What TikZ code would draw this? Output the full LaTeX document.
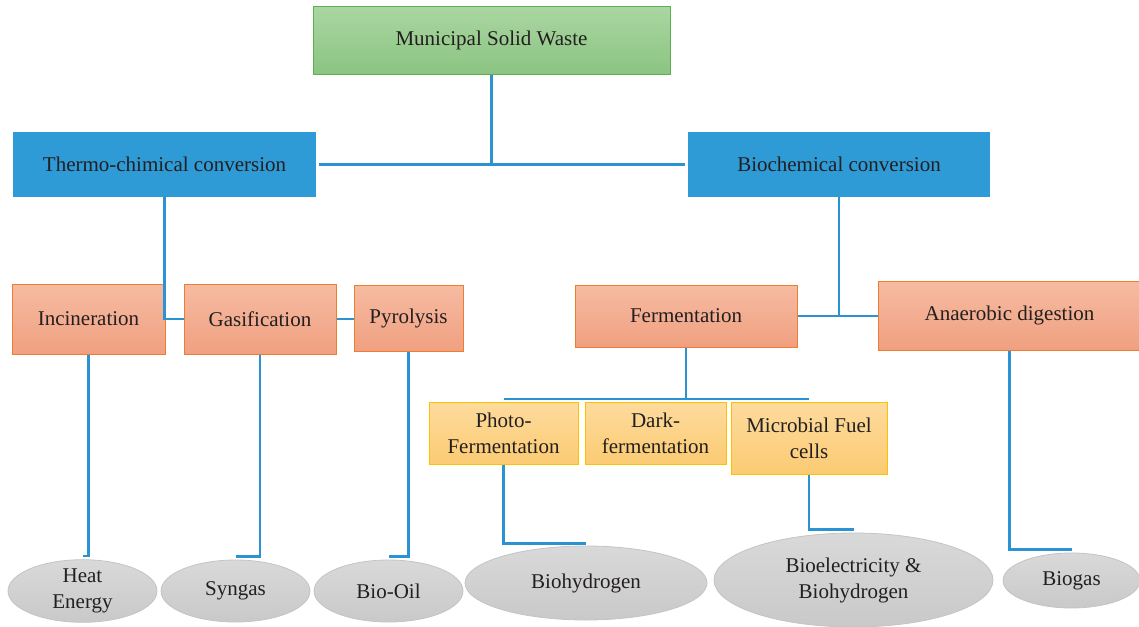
\documentclass[tikz,border=0pt]{standalone}
\usepackage{fontspec}
\setmainfont{Liberation Serif}
\usetikzlibrary{shapes.geometric}
\definecolor{conncol}{HTML}{2B93D1}
\definecolor{txtcol}{HTML}{231F20}
\definecolor{gtop}{HTML}{AAD6A1}
\definecolor{gbot}{HTML}{8BC482}
\definecolor{gdraw}{HTML}{5DB04E}
\definecolor{bfill}{HTML}{2E9BD6}
\definecolor{otop}{HTML}{F6BBA2}
\definecolor{obot}{HTML}{F0A080}
\definecolor{odraw}{HTML}{ED7D31}
\definecolor{ytop}{HTML}{FDDB9E}
\definecolor{ybot}{HTML}{FBCB72}
\definecolor{ydraw}{HTML}{FFC000}
\definecolor{etop}{HTML}{D9D9D9}
\definecolor{ebot}{HTML}{C9C9C9}
\definecolor{edraw}{HTML}{C4C4C4}
\tikzset{
  basebox/.style={rectangle, inner sep=2pt, text=txtcol, align=center},
  greenbox/.style={basebox, draw=gdraw, line width=1pt, top color=gtop, bottom color=gbot},
  bluebox/.style={basebox, fill=bfill},
  orangebox/.style={basebox, draw=odraw, line width=1pt, top color=otop, bottom color=obot},
  yellowbox/.style={basebox, draw=ydraw, line width=1pt, top color=ytop, bottom color=ybot},
  grayell/.style={ellipse, inner sep=0pt, text=txtcol, align=center, draw=edraw, line width=0.8pt, top color=etop, bottom color=ebot},
  conn/.style={draw=conncol, line width=2.4pt}
}
\begin{document}
\begin{tikzpicture}[x=1pt,y=-1pt,font=\fontsize{21}{26}\selectfont]
\useasboundingbox (0,0) rectangle (1139,626);
% boxes
\node[greenbox, minimum width=357, minimum height=67] (msw) at (491.5,40.5) {Municipal Solid Waste};
\node[bluebox, minimum width=303, minimum height=65] (thermo) at (164.5,164.5) {Thermo-chimical conversion};
\node[bluebox, minimum width=302, minimum height=65] (bio) at (839,164.5) {Biochemical conversion};
\node[orangebox, minimum width=153, minimum height=70] (inc) at (88.5,319) {Incineration};
\node[orangebox, minimum width=152, minimum height=70] (gas) at (260,319) {Gasification};
\node[orangebox, minimum width=109, minimum height=66] (pyro) at (408.5,318) {Pyrolysis};
\node[orangebox, minimum width=222, minimum height=62] (ferm) at (686,316) {Fermentation};
\node[orangebox, minimum width=263, minimum height=69] (anaer) at (1009.5,315.5) {Anaerobic digestion};
\node[yellowbox, minimum width=149, minimum height=62] (photo) at (503.5,433) {Photo-\\Fermentation};
\node[yellowbox, minimum width=141, minimum height=62] (dark) at (655.5,433) {Dark-\\fermentation};
\node[yellowbox, minimum width=156, minimum height=72] (micro) at (809,438) {Microbial Fuel\\cells};
% ellipses
\node[grayell, minimum width=149, minimum height=62] (heat) at (82.5,591) {Heat\\Energy};
\node[grayell, minimum width=149, minimum height=62] (syn) at (235.5,591) {Syngas};
\node[grayell, minimum width=149, minimum height=62] (oil) at (388.5,591) {Bio-Oil};
\node[grayell, minimum width=242, minimum height=74] (bh) at (586,583) {Biohydrogen};
\node[grayell, minimum width=279, minimum height=94] (be) at (853.5,580) {Bioelectricity \&\\Biohydrogen};
\node[grayell, minimum width=137, minimum height=55] (biogas) at (1071.5,580.5) {Biogas};
% connectors
\coordinate (top) at (491.5,164.5);
\draw[conn] (msw.south) -- (top);
\draw[conn] ([xshift=3pt]thermo.east) -- ([xshift=-3pt]bio.west);
\draw[conn] (thermo.south) |- (gas.west);
\draw[conn] (gas.east) -- (gas.east -| pyro.west);
\draw[conn] (bio.south) |- (ferm.east);
\draw[conn] (ferm.east) -- (ferm.east -| anaer.west);
\coordinate (fj) at (686,399);
\draw[conn] (ferm.south) -- (fj);
\draw[conn] (photo.north |- fj) -- (micro.north |- fj);
\draw[conn] (inc.south) |- ([yshift=3pt]heat.north);
\draw[conn] (gas.south) |- ([yshift=3pt]syn.north);
\draw[conn] (pyro.south) |- ([yshift=3pt]oil.north);
\draw[conn] (photo.south) |- ([yshift=2pt]bh.north);
\draw[conn] (micro.south) |- ([yshift=3pt]be.north);
\draw[conn] (anaer.south) |- ([yshift=3pt]biogas.north);
\end{tikzpicture}
\end{document}
